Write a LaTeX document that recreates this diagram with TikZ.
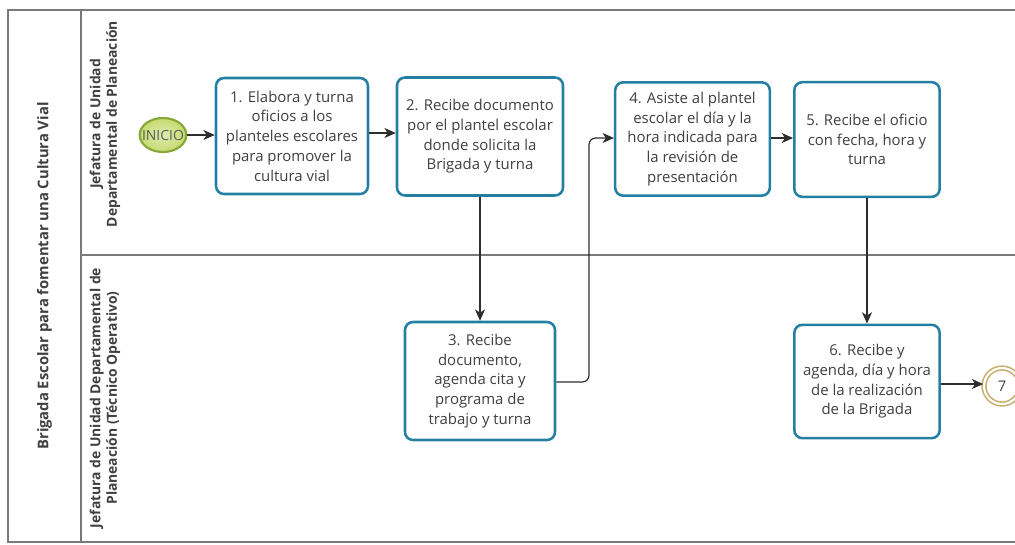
\documentclass[tikz,border=0pt]{standalone}
\usepackage{fontspec}
\setmainfont{Open Sans}
\usetikzlibrary{arrows.meta,positioning,shapes.geometric}
\definecolor{boxline}{HTML}{2380A3}
\definecolor{txt}{HTML}{404040}
\definecolor{pool}{HTML}{7A7A7A}
\definecolor{startfill}{HTML}{C6DA6E}
\definecolor{startline}{HTML}{86A83A}
\definecolor{endline}{HTML}{C7AE6E}
\definecolor{flow}{HTML}{2E2E2E}
\tikzset{
  task/.style={draw=boxline, line width=1.9pt, rounded corners=6pt, fill=white,
    text=txt, align=center, font=\fontsize{11.2}{14.8}\selectfont, inner sep=2pt},
  flowarrow/.style={draw=flow, line width=0.9pt, -{Stealth[length=8.5pt,width=7.5pt,inset=2.5pt]}},
  poolline/.style={draw=pool, line width=0.8pt},
  lanelabel/.style={rotate=90, align=center, text=txt,
    font=\fontsize{10.4}{12.4}\selectfont\bfseries},
}
\begin{document}
\begin{tikzpicture}[x=0.75pt,y=-0.75pt]
\useasboundingbox (0,0) rectangle (1015,544);
% pool frame
\draw[poolline] (1016,10) -- (8,10) -- (8,542) -- (1016,542);
\draw[poolline] (81,10) -- (81,542);
\draw[poolline] (81,255) -- (1016,255);
% titles
\node[lanelabel, font=\fontsize{11.1}{13}\selectfont\bfseries] (pooltitle) at (44.5,276)
  {Brigada Escolar para fomentar una Cultura Vial};
\node[lanelabel] (lane1) at (105,124)
  {Jefatura de Unidad\\Departamental de Planeación};
\node[lanelabel] (lane2) at (105,398)
  {Jefatura de Unidad Departamental de\\Planeación (Técnico Operativo)};
% start event
\node[ellipse, draw=startline, line width=1.6pt, inner color=startfill!55!white, outer color=startfill,
  minimum width=35pt, minimum height=25.5pt, inner sep=0pt] (start) at (163,135) {};
\node[text=txt!85, font=\fontsize{10.5}{12}\selectfont, inner sep=0pt] (startlabel) at (start) {INICIO};
% tasks
\node[task, minimum width=114pt, minimum height=87pt] (t1) at (292,136)
  {1. Elabora y turna\\oficios a los\\planteles escolares\\para promover la\\cultura vial};
\node[task, minimum width=124.5pt, minimum height=88.5pt] (t2) at (480,136.5)
  {2. Recibe documento\\por el plantel escolar\\donde solicita la\\Brigada y turna};
\node[task, minimum width=112.5pt, minimum height=88.5pt] (t3) at (480,381)
  {3. Recibe\\documento,\\agenda cita y\\programa de\\trabajo y turna};
\node[task, minimum width=116pt, minimum height=85pt] (t4) at (692.5,139)
  {4. Asiste al plantel\\escolar el día y la\\hora indicada para\\la revisión de\\presentación};
\node[task, minimum width=109pt, minimum height=86pt] (t5) at (867,139.5)
  {5. Recibe el oficio\\con fecha, hora y\\turna};
\node[task, minimum width=109pt, minimum height=85pt] (t6) at (867,381.5)
  {6. Recibe y\\agenda, día y hora\\de la realización\\de la Brigada};
% end / link event
\node[circle, draw=endline, line width=1.2pt, double=white, double distance=1.6pt,
  minimum size=27pt, inner sep=0pt, text=txt, font=\fontsize{11}{13}\selectfont] (fin) at (1002,386) {7};
% sequence flows
\draw[flowarrow] (start.east) -- (start.east -| t1.west);
\draw[flowarrow] (t1.east |- 0,133) -- (t2.west |- 0,133);
\draw[flowarrow] (t2.south) -- (t3.north);
\draw[flowarrow, rounded corners=5pt] (t3.east |- 0,382) -| (589,260) |- (t4.west |- 0,138);
\draw[flowarrow] (t4.east |- 0,138) -- (t5.west |- 0,138);
\draw[flowarrow] (t5.south) -- (t6.north);
\draw[flowarrow] (t6.east |- 0,384) -- (fin.west |- 0,384);
\end{tikzpicture}
\end{document}
